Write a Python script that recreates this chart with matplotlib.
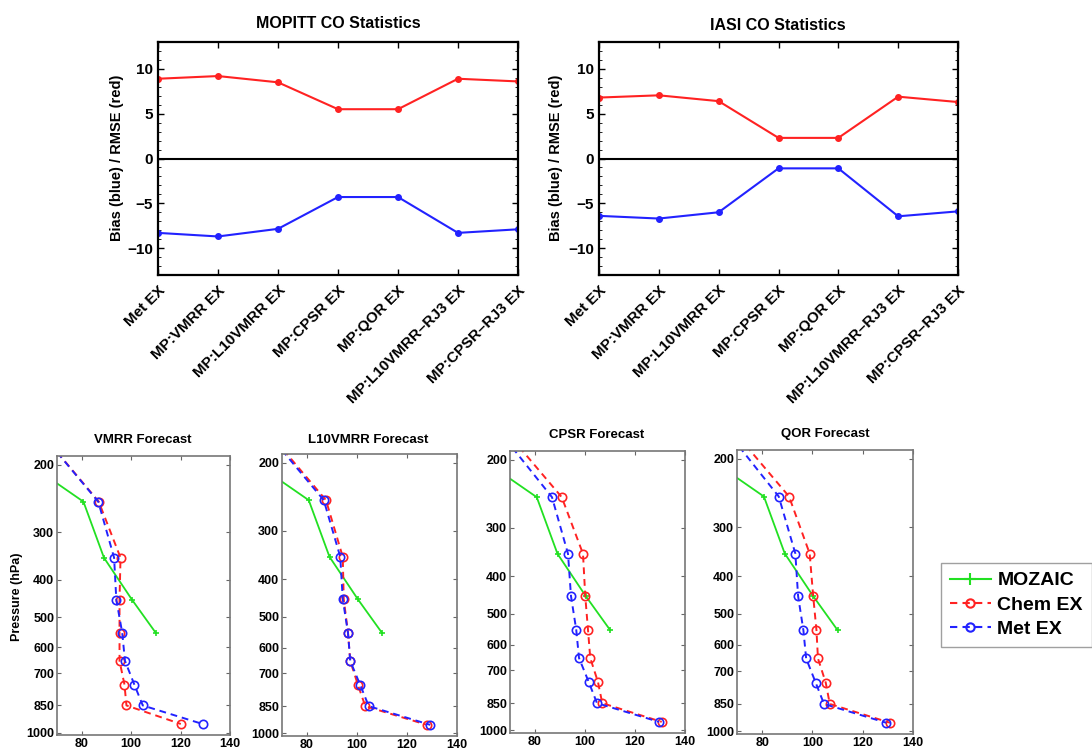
import matplotlib
matplotlib.use("Agg")
import matplotlib.pyplot as plt
from matplotlib.ticker import FixedLocator, MultipleLocator, NullLocator, FixedFormatter
from matplotlib.lines import Line2D

plt.rcParams['font.family'] = ['Liberation Sans', 'DejaVu Sans']
plt.rcParams['font.weight'] = 'bold'

# ---------------- data ----------------
exp_labels = ['Met EX', 'MP:VMRR EX', 'MP:L10VMRR EX', 'MP:CPSR EX',
              'MP:QOR EX', 'MP:L10VMRR\u2013RJ3 EX', 'MP:CPSR\u2013RJ3 EX']
mopitt_rmse = [8.9, 9.2, 8.5, 5.5, 5.5, 8.9, 8.6]
mopitt_bias = [-8.3, -8.7, -7.85, -4.3, -4.3, -8.3, -7.9]
iasi_rmse = [6.8, 7.05, 6.4, 2.3, 2.3, 6.9, 6.3]
iasi_bias = [-6.4, -6.7, -6.0, -1.1, -1.1, -6.45, -5.9]

model_levels = [150, 250, 350, 450, 550, 650, 750, 850, 950]
mozaic_levels = [200, 250, 350, 450, 550]
mozaic_co = [59, 80.7, 89.0, 100.3, 110.0]

panel_titles = ['VMRR Forecast', 'L10VMRR Forecast', 'CPSR Forecast', 'QOR Forecast']
met_co = [
    [58.0, 86.7, 93.1, 94.0, 96.4, 97.5, 101.3, 104.7, 128.9],
    [58.0, 86.7, 93.3, 94.3, 96.4, 97.3, 101.3, 104.7, 129.3],
    [59.3, 86.8, 93.2, 94.4, 96.5, 97.6, 101.5, 104.8, 129.6],
    [59.3, 86.6, 93.2, 94.3, 96.4, 97.5, 101.3, 104.6, 129.4],
]
chem_co = [
    [58.0, 86.9, 95.7, 95.3, 95.3, 95.3, 97.3, 98.1, 120.1],
    [58.5, 87.6, 94.3, 94.7, 96.4, 97.3, 100.4, 103.3, 128.0],
    [61.6, 90.7, 99.2, 100.1, 101.2, 102.1, 105.2, 106.9, 130.7],
    [61.6, 90.7, 98.9, 100.3, 101.6, 102.2, 105.3, 106.9, 130.9],
]
p_ticks = [200, 300, 400, 500, 600, 700, 850, 1000]
co_ticks = [80, 100, 120, 140]

RED = '#ff2222'
BLUE = '#2222ff'
GREEN = '#22e022'

W, H = 1092, 751
fig = plt.figure(figsize=(W / 100, H / 100), dpi=100)

def frac(x0, y0, x1, y1):
    return [x0 / W, 1 - y1 / H, (x1 - x0) / W, (y1 - y0) / H]

# ---------------- top panels ----------------
top_specs = [
    (frac(158, 42, 518, 275), 'MOPITT CO Statistics', mopitt_rmse, mopitt_bias, (338, 24), 117),
    (frac(599, 42, 958, 275), 'IASI CO Statistics', iasi_rmse, iasi_bias, (778, 25), 556),
]
xs = list(range(1, len(exp_labels) + 1))
for rect, title, rmse, bias, tpos, ylx in top_specs:
    ax = fig.add_axes(rect)
    ax.plot(xs, rmse, '-o', color=RED, lw=1.5, ms=4)
    ax.plot(xs, bias, '-o', color=BLUE, lw=1.5, ms=4)
    ax.axhline(0, color='black', lw=1.5)
    ax.set_xlim(1, 7)
    ax.set_ylim(-13, 13)
    ax.set_yticks([-10, -5, 0, 5, 10])
    ax.set_yticklabels(['\u221210', '\u22125', '0', '5', '10'])
    ax.yaxis.set_minor_locator(MultipleLocator(1))
    ax.set_xticks(xs)
    ax.set_xticklabels(exp_labels, rotation=45, ha='right', rotation_mode='anchor',
                       fontsize=9.5, fontweight='bold')
    ax.tick_params(direction='in', top=True, right=True, labelsize=11, width=1, length=4)
    ax.tick_params(axis='y', which='minor', direction='in', right=True, length=2)
    ax.tick_params(axis='x', pad=6)
    for s in ax.spines.values():
        s.set_linewidth(1.6)
    fig.text(tpos[0] / W, 1 - tpos[1] / H, title, ha='center', va='center',
             fontsize=11.5, fontweight='bold')
    fig.text(ylx / W, 1 - 158 / H, 'Bias (blue) / RMSE (red)', rotation=90,
             ha='center', va='center', fontsize=10.5, fontweight='bold')

# ---------------- bottom panels ----------------
bottom_rects = [
    frac(57, 456, 230, 735),
    frac(282, 454, 457, 736),
    frac(510, 451, 685, 733),
    frac(737, 450, 913, 734),
]
title_pos = [(143, 440), (368, 440), (597, 435), (825, 434)]
for i, rect in enumerate(bottom_rects):
    ax = fig.add_axes(rect)
    ax.plot(mozaic_co, mozaic_levels, '-+', color=GREEN, lw=1.3, ms=5, mew=1.2)
    ax.plot(chem_co[i], model_levels, '--o', color=RED, lw=1.4, ms=6,
            mfc='none', mew=1.2, dashes=(3.5, 2.5))
    ax.plot(met_co[i], model_levels, '--o', color=BLUE, lw=1.4, ms=6,
            mfc='none', mew=1.2, dashes=(3.5, 2.5))
    ax.set_yscale('log')
    ax.set_ylim(1015, 190)
    ax.yaxis.set_major_locator(FixedLocator(p_ticks))
    ax.yaxis.set_major_formatter(FixedFormatter([str(t) for t in p_ticks]))
    ax.yaxis.set_minor_locator(NullLocator())
    ax.set_xlim(70, 140)
    ax.set_xticks(co_ticks)
    ax.tick_params(direction='in', top=True, right=True, labelsize=9, length=3,
                   width=0.8, color='#666666', pad=2)
    for lab in ax.get_xticklabels() + ax.get_yticklabels():
        lab.set_fontweight('bold')
    for s in ax.spines.values():
        s.set_color('#777777')
        s.set_linewidth(1.2)
    fig.text(title_pos[i][0] / W, 1 - title_pos[i][1] / H, panel_titles[i],
             ha='center', va='center', fontsize=9.5, fontweight='bold')
    if i == 0:
        fig.text(17 / W, 1 - 597 / H, 'Pressure (hPa)', rotation=90,
                 ha='center', va='center', fontsize=9, fontweight='bold')

# ---------------- legend ----------------
handles = [
    Line2D([], [], color=GREEN, marker='+', lw=1.5, ms=8, mew=1.5),
    Line2D([], [], color=RED, marker='o', ls='--', lw=1.5, ms=6, mfc='none', mew=1.5, dashes=(3.5, 2.5)),
    Line2D([], [], color=BLUE, marker='o', ls='--', lw=1.5, ms=6, mfc='none', mew=1.5, dashes=(3.5, 2.5)),
]
leg = fig.legend(handles, ['MOZAIC', 'Chem EX', 'Met EX'], loc='upper left',
                 bbox_to_anchor=(941 / W, 1 - 563 / H), borderaxespad=0.0,
                 prop={'weight': 'bold', 'size': 14}, frameon=True, fancybox=False,
                 edgecolor='#888888', handlelength=2.1, handletextpad=0.35,
                 labelspacing=0.35, borderpad=0.45)
leg.get_frame().set_linewidth(1.0)

fig.savefig('out.png', dpi=100)
